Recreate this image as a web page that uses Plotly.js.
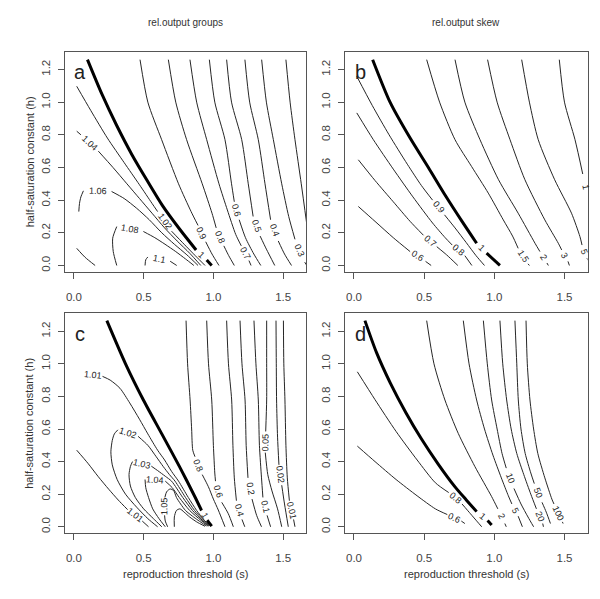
<!DOCTYPE html>
<html><head><meta charset="utf-8">
<script src="https://cdn.plot.ly/plotly-3.0.1.min.js"></script>
<style>html,body{margin:0;padding:0;background:#fff}#plot{width:600px;height:599px}</style>
</head><body><div id="plot"></div>
<script>
// ---------- tick labels and texts ----------
const xTickVals = [0, 0.5, 1, 1.5];
const xTickText = ['0.0', '0.5', '1.0', '1.5'];
const yTickVals = [0, 0.2, 0.4, 0.6, 0.8, 1.0, 1.2];
const yTickText = ['0.0', '0.2', '0.4', '0.6', '0.8', '1.0', '1.2'];
const columnTitles = ['rel.output groups', 'rel.output skew'];
const panelLetters = ['a', 'b', 'c', 'd'];
const xTitleText = 'reproduction threshold (s)';
const yTitleText = 'half-saturation constant (h)';

// ---------- panel a : contour lines (null = label gap) ----------
const aLevels = [1, 1.02, 1.04, 1.06, 1.06, 1.08, 1.1, 0.9, 0.8, 0.7, 0.6, 0.5, 0.4, 0.3, 0.2];
const aLabels = ['1', '1.02', '1.04', '1.06', '', '1.08', '1.1', '0.9', '0.8', '0.7', '0.6', '0.5', '0.4', '0.3', ''];
const aX = [
  [0.097, 0.20, 0.305, 0.415, 0.525, 0.64, 0.76, 0.876, null, 0.952, 0.988],
  [0.02, 0.12, 0.24, 0.36, 0.47, 0.56, 0.60, null, 0.70, 0.79, 0.87, 0.94],
  [0.02, 0.05, null, 0.175, 0.28, 0.38, 0.47, 0.56, 0.65, 0.74, 0.83, 0.91],
  [0.035, 0.04, 0.05, 0.068, null, 0.27, 0.36, 0.45, 0.54, 0.63, 0.72, 0.81, 0.89],
  [0.02, 0.08, 0.152],
  [0.307, 0.282, 0.278, 0.307, null, 0.498, 0.58, 0.653, 0.73, 0.80, 0.86],
  [0.51, 0.515, 0.53, null, 0.69, 0.737],
  [0.474, 0.53, 0.629, 0.75, 0.84, 0.89, null, 0.945, 0.99, 1.04],
  [0.677, 0.73, 0.808, 0.92, 0.99, 1.02, null, 1.075, 1.11, 1.15],
  [0.832, 0.88, 0.952, 1.04, 1.10, 1.16, 1.20, null, 1.255, 1.27],
  [0.971, 1.01, 1.083, 1.13, 1.15, null, 1.185, 1.23, 1.29, 1.34],
  [1.095, 1.13, 1.203, 1.25, 1.285, null, 1.335, 1.38, 1.44],
  [1.226, 1.26, 1.322, 1.37, 1.41, null, 1.465, 1.51, 1.56],
  [1.346, 1.38, 1.43, 1.49, 1.54, 1.585, null, 1.655, 1.67],
  [1.52, 1.55, 1.585, 1.63, 1.67]
];
const aY = [
  [1.26, 1.05, 0.86, 0.68, 0.52, 0.36, 0.22, 0.095, null, 0.034, 0.0],
  [1.097, 0.95, 0.78, 0.63, 0.494, 0.38, 0.33, null, 0.21, 0.13, 0.06, 0.0],
  [0.822, 0.80, null, 0.70, 0.60, 0.50, 0.41, 0.32, 0.23, 0.15, 0.075, 0.0],
  [0.33, 0.38, 0.42, 0.457, null, 0.453, 0.41, 0.35, 0.28, 0.20, 0.13, 0.065, 0.0],
  [0.105, 0.05, 0.0],
  [0.0, 0.085, 0.167, 0.238, null, 0.208, 0.17, 0.13, 0.085, 0.04, 0.0],
  [0.0, 0.035, 0.052, null, 0.026, 0.0],
  [1.26, 1.0, 0.77, 0.5, 0.33, 0.245, null, 0.145, 0.07, 0.0],
  [1.26, 1.0, 0.77, 0.5, 0.32, 0.23, null, 0.12, 0.06, 0.0],
  [1.26, 1.0, 0.77, 0.5, 0.34, 0.19, 0.12, null, 0.03, 0.0],
  [1.26, 1.0, 0.77, 0.5, 0.39, null, 0.28, 0.17, 0.07, 0.0],
  [1.26, 1.0, 0.77, 0.5, 0.30, null, 0.18, 0.1, 0.0],
  [1.26, 1.0, 0.77, 0.5, 0.28, null, 0.15, 0.07, 0.0],
  [1.26, 1.0, 0.77, 0.5, 0.3, 0.16, null, 0.02, 0.0],
  [1.26, 1.0, 0.77, 0.5, 0.25]
];

// ---------- panel b ----------
const bLevels = [1, 0.9, 0.8, 0.7, 0.6, 1.5, 2, 3, 5, 10];
const bLabels = ['1', '0.9', '0.8', '0.7', '0.6', '1.5', '2', '3', '5', '1'];
const bX = [
  [0.133, 0.257, 0.40, 0.53, 0.65, 0.77, 0.874, null, 0.945, 1.04],
  [0.02, 0.13, 0.25, 0.38, 0.48, 0.56, null, 0.645, 0.72, 0.80, 0.87, 0.93],
  [0.02, 0.138, 0.28, 0.42, 0.56, 0.65, 0.70, null, 0.79, 0.84],
  [0.031, 0.15, 0.28, 0.40, 0.495, null, 0.59, 0.66, 0.74],
  [0.031, 0.15, 0.28, 0.40, null, 0.51, 0.55],
  [0.518, 0.61, 0.72, 0.838, 0.957, 1.064, 1.13, 1.17, null, 1.24, 1.25],
  [0.72, 0.79, 0.898, 1.03, 1.17, 1.29, 1.325, null, 1.375, 1.385],
  [0.952, 1.02, 1.112, 1.218, 1.36, 1.456, 1.48, null, 1.525, 1.535],
  [1.195, 1.25, 1.313, 1.43, 1.55, 1.61, 1.625, null, 1.66, 1.67],
  [1.463, 1.50, 1.575, 1.63, null, 1.67]
];
const bY = [
  [1.26, 1.0, 0.78, 0.6, 0.43, 0.27, 0.136, null, 0.075, 0.0],
  [1.158, 0.98, 0.80, 0.62, 0.49, 0.40, null, 0.31, 0.23, 0.14, 0.06, 0.0],
  [0.934, 0.77, 0.59, 0.42, 0.26, 0.17, 0.125, null, 0.06, 0.0],
  [0.647, 0.52, 0.39, 0.27, 0.185, null, 0.115, 0.065, 0.0],
  [0.361, 0.27, 0.17, 0.085, null, 0.025, 0.0],
  [1.26, 1.0, 0.77, 0.606, 0.443, 0.279, 0.18, 0.105, null, 0.01, 0.0],
  [1.26, 1.0, 0.77, 0.525, 0.32, 0.136, 0.085, null, 0.015, 0.0],
  [1.26, 1.0, 0.77, 0.525, 0.279, 0.136, 0.095, null, 0.025, 0.0],
  [1.26, 1.0, 0.77, 0.525, 0.32, 0.177, 0.125, null, 0.045, 0.03],
  [1.26, 1.0, 0.77, 0.56, null, 0.40]
];

// ---------- panel c ----------
const cLevels = [1, 1.01, 1.01, 1.02, 1.03, 1.04, 1.05, 1.06, 0.8, 0.6, 0.4, 0.2, 0.1, 0.05, 0.02, 0.01];
const cLabels = ['1', '1.01', '1.01', '1.02', '1.03', '1.04', '1.05', '', '0.8', '0.6', '0.4', '0.2', '0.1', '0.05', '0.02', '0.01'];
const cX = [
  [0.236, 0.37, 0.498, 0.63, 0.757, 0.87, 0.915, null, 0.955, 0.988],
  [0.075, null, 0.205, 0.26, 0.33, 0.40, 0.47, 0.53, 0.60, 0.65, 0.70, 0.75, 0.82, 0.88, 0.935, 0.975],
  [0.02, 0.10, 0.175, 0.25, 0.318, 0.385, null, 0.49, 0.535],
  [0.60, 0.53, 0.45, 0.37, 0.31, 0.275, 0.265, 0.275, 0.29, 0.315, null, 0.46, 0.53, 0.59, 0.64, 0.685, 0.725, 0.80, 0.865, 0.93, 0.97],
  [0.63, 0.57, 0.50, 0.44, 0.405, 0.395, 0.405, 0.42, null, 0.555, 0.60, 0.655, 0.70, 0.78, 0.85, 0.92, 0.965],
  [0.655, 0.61, 0.565, 0.535, 0.515, 0.51, null, 0.655, 0.705, 0.755, 0.83, 0.91, 0.96],
  [0.672, 0.655, 0.65, null, 0.652, 0.665, 0.69, 0.715, 0.735, 0.765, 0.80, 0.85, 0.89, 0.95],
  [0.72, 0.72, 0.735, 0.76, 0.79, 0.83, 0.88, 0.94],
  [0.804, 0.815, 0.833, 0.844, 0.852, 0.868, null, 0.92, 0.964, 1.0, 1.035, 1.083],
  [0.952, 0.965, 0.988, 1.0, 1.01, 1.015, null, 1.06, 1.107, 1.143],
  [1.095, 1.108, 1.131, 1.14, 1.15, 1.165, null, 1.205, 1.225],
  [1.191, 1.205, 1.227, 1.235, 1.248, null, 1.277, 1.31, 1.345],
  [1.291, 1.305, 1.322, 1.33, 1.345, 1.355, null, 1.385, 1.41],
  [1.382, 1.382, 1.382, 1.375, null, 1.372, 1.39, 1.42, 1.46, 1.49],
  [1.449, 1.451, 1.453, 1.46, 1.47, null, 1.49, 1.51, 1.537],
  [1.502, 1.505, 1.513, 1.52, 1.53, 1.545, null, 1.575, 1.585]
];
const cY = [
  [1.265, 1.0, 0.778, 0.57, 0.369, 0.18, 0.10, null, 0.04, 0.004],
  [0.935, null, 0.923, 0.90, 0.85, 0.76, 0.66, 0.57, 0.47, 0.41, 0.34, 0.28, 0.18, 0.10, 0.04, 0.005],
  [0.47, 0.39, 0.307, 0.23, 0.164, 0.105, null, 0.035, 0.0],
  [0.0, 0.05, 0.12, 0.20, 0.29, 0.38, 0.46, 0.53, 0.57, 0.595, null, 0.555, 0.50, 0.43, 0.37, 0.32, 0.28, 0.18, 0.10, 0.04, 0.005],
  [0.0, 0.05, 0.11, 0.18, 0.25, 0.32, 0.37, 0.40, null, 0.372, 0.345, 0.31, 0.28, 0.18, 0.10, 0.04, 0.005],
  [0.0, 0.05, 0.11, 0.18, 0.24, 0.29, null, 0.28, 0.24, 0.18, 0.10, 0.04, 0.005],
  [0.0, 0.035, 0.07, null, 0.18, 0.215, 0.232, 0.222, 0.18, 0.14, 0.10, 0.065, 0.04, 0.005],
  [0.0, 0.06, 0.10, 0.11, 0.09, 0.06, 0.03, 0.003],
  [1.265, 1.0, 0.778, 0.6, 0.47, 0.43, null, 0.32, 0.246, 0.17, 0.103, 0.0],
  [1.265, 1.0, 0.778, 0.5, 0.33, 0.28, null, 0.15, 0.08, 0.0],
  [1.265, 1.0, 0.778, 0.5, 0.3, 0.16, null, 0.045, 0.0],
  [1.265, 1.0, 0.778, 0.5, 0.30, null, 0.17, 0.07, 0.0],
  [1.265, 1.0, 0.778, 0.5, 0.3, 0.18, null, 0.07, 0.0],
  [1.265, 1.0, 0.778, 0.585, null, 0.455, 0.32, 0.22, 0.11, 0.0],
  [1.265, 1.0, 0.778, 0.55, 0.38, null, 0.255, 0.14, 0.0],
  [1.265, 1.0, 0.778, 0.5, 0.3, 0.16, null, 0.045, 0.0]
];

// ---------- panel d ----------
const dLevels = [1, 0.8, 0.6, 2, 5, 10, 20, 50, 100];
const dLabels = ['1', '0.8', '0.6', '2', '5', '10', '20', '50', '100'];
const dX = [
  [0.078, 0.16, 0.26, 0.37, 0.48, 0.60, 0.72, 0.80, 0.874, null, 0.952, 0.981],
  [0.024, 0.15, 0.30, 0.45, 0.58, 0.675, null, 0.77, 0.83, 0.88, 0.91],
  [0.024, 0.15, 0.30, 0.45, 0.58, 0.665, null, 0.765, 0.79],
  [0.518, 0.57, 0.648, 0.743, 0.862, 0.981, 1.025, null, 1.075, 1.085],
  [0.779, 0.82, 0.874, 0.93, 0.99, 1.05, 1.10, 1.125, null, 1.17, 1.2],
  [0.922, 0.95, 0.981, 1.02, 1.055, 1.085, null, 1.14, 1.19, 1.24, 1.28],
  [1.04, 1.06, 1.088, 1.12, 1.16, 1.21, 1.26, 1.30, null, 1.345, 1.35],
  [1.147, 1.16, 1.171, 1.19, 1.22, 1.26, 1.285, null, 1.34, 1.37, 1.40],
  [1.226, 1.235, 1.254, 1.28, 1.31, 1.36, 1.41, 1.425, null, 1.485, 1.49]
];
const dY = [
  [1.265, 1.07, 0.88, 0.70, 0.54, 0.385, 0.245, 0.165, 0.093, null, 0.038, 0.011],
  [0.951, 0.78, 0.585, 0.41, 0.27, 0.21, null, 0.14, 0.08, 0.03, 0.0],
  [0.495, 0.40, 0.29, 0.19, 0.11, 0.075, null, 0.035, 0.02],
  [1.265, 1.0, 0.778, 0.573, 0.369, 0.185, 0.11, null, 0.02, 0.0],
  [1.265, 1.0, 0.778, 0.6, 0.44, 0.3, 0.19, 0.14, null, 0.065, 0.0],
  [1.265, 1.0, 0.778, 0.6, 0.45, 0.36, null, 0.235, 0.14, 0.06, 0.0],
  [1.265, 1.0, 0.778, 0.6, 0.45, 0.32, 0.2, 0.11, null, 0.02, 0.0],
  [1.265, 1.0, 0.778, 0.6, 0.45, 0.33, 0.265, null, 0.15, 0.09, 0.02],
  [1.265, 1.0, 0.778, 0.6, 0.45, 0.3, 0.17, 0.14, null, 0.03, 0.02]
];

// ---------- layout geometry ----------
const W = 600, H = 599;
const XR = [-0.064, 1.664], YR = [-0.04, 1.31];
const xDom = [[65 / W, 306 / W], [345 / W, 587.5 / W]];
const yDom = [[1 - 272 / H, 1 - 51.5 / H], [1 - 533.3 / H, 1 - 313.3 / H]];
const FONT = 'Liberation Sans, Arial, Helvetica, sans-serif';

const panels = [
  { lv: aLevels, lb: aLabels, xs: aX, ys: aY, col: 0, row: 0 },
  { lv: bLevels, lb: bLabels, xs: bX, ys: bY, col: 1, row: 0 },
  { lv: cLevels, lb: cLabels, xs: cX, ys: cY, col: 0, row: 1 },
  { lv: dLevels, lb: dLabels, xs: dX, ys: dY, col: 1, row: 1 }
];

const traces = [];
const annotations = [];
const layout = {
  width: W, height: H,
  margin: { l: 0, r: 0, t: 0, b: 0 },
  paper_bgcolor: '#fff', plot_bgcolor: '#fff',
  showlegend: false,
  font: { family: FONT, color: '#333' }
};

panels.forEach((p, i) => {
  const suf = i === 0 ? '' : String(i + 1);
  const xd = xDom[p.col], yd = yDom[p.row];
  layout['xaxis' + suf] = {
    domain: xd, range: XR, anchor: 'y' + suf,
    tickmode: 'array', tickvals: xTickVals, ticktext: xTickText,
    ticks: 'outside', ticklen: 6, tickwidth: 1, tickcolor: '#555',
    showline: true, mirror: true, linecolor: '#555', linewidth: 1,
    showgrid: false, zeroline: false, fixedrange: true,
    tickfont: { family: FONT, size: 11.5, color: '#444' },
    ticklabelstandoff: 8
  };
  layout['yaxis' + suf] = {
    domain: yd, range: YR, anchor: 'x' + suf,
    tickmode: 'array', tickvals: yTickVals, ticktext: yTickText,
    ticks: 'outside', ticklen: 6, tickwidth: 1, tickcolor: '#555',
    showline: true, mirror: true, linecolor: '#555', linewidth: 1,
    showgrid: false, zeroline: false, fixedrange: true, tickangle: -90,
    tickfont: { family: FONT, size: 11.5, color: '#444' },
    ticklabelstandoff: 3
  };
  const sx = (xd[1] - xd[0]) * W / (XR[1] - XR[0]);
  const sy = (yd[1] - yd[0]) * H / (YR[1] - YR[0]);

  p.xs.forEach((xs, k) => {
    const ys = p.ys[k];
    const thick = p.lv[k] === 1;
    traces.push({
      type: 'scatter', mode: 'lines', x: xs, y: ys,
      xaxis: 'x' + suf, yaxis: 'y' + suf,
      connectgaps: false, hoverinfo: 'skip',
      line: { color: thick ? '#000' : '#262626', width: thick ? 3 : 1, shape: 'spline', smoothing: 0.7 }
    });
    const g = xs.indexOf(null);
    if (g > 0 && p.lb[k]) {
      const x0 = xs[g - 1], y0 = ys[g - 1], x1 = xs[g + 1], y1 = ys[g + 1];
      let ang = Math.atan2(-(y1 - y0) * sy, (x1 - x0) * sx) * 180 / Math.PI;
      if (ang > 90) ang -= 180;
      if (ang <= -90) ang += 180;
      annotations.push({
        x: (x0 + x1) / 2, y: (y0 + y1) / 2, xref: 'x' + suf, yref: 'y' + suf,
        text: p.lb[k], showarrow: false, textangle: ang,
        xanchor: 'center', yanchor: 'middle',
        font: { family: FONT, size: 9, color: '#222' }
      });
    }
  });

  // panel letter
  annotations.push({
    x: 0.062, y: 0.905, xref: 'x' + suf + ' domain', yref: 'y' + suf + ' domain',
    text: panelLetters[i], showarrow: false, xanchor: 'center', yanchor: 'middle',
    font: { family: FONT, size: 20, color: '#222' }
  });
});

// column titles
columnTitles.forEach((t, c) => {
  annotations.push({
    x: (xDom[c][0] + xDom[c][1]) / 2, y: 1 - 22.7 / H, xref: 'paper', yref: 'paper',
    text: t, showarrow: false, xanchor: 'center', yanchor: 'middle',
    font: { family: FONT, size: 10, color: '#333' }
  });
});
// y titles (left column)
yDom.forEach(yd => {
  annotations.push({
    x: 29.5 / W, y: (yd[0] + yd[1]) / 2, xref: 'paper', yref: 'paper',
    text: yTitleText, showarrow: false, textangle: -90, xanchor: 'center', yanchor: 'middle',
    font: { family: FONT, size: 11, color: '#333' }
  });
});
// x titles (bottom row)
xDom.forEach(xd => {
  annotations.push({
    x: (xd[0] + xd[1]) / 2, y: 1 - 574 / H, xref: 'paper', yref: 'paper',
    text: xTitleText, showarrow: false, xanchor: 'center', yanchor: 'middle',
    font: { family: FONT, size: 11, color: '#333' }
  });
});
layout.annotations = annotations;

Plotly.newPlot('plot', traces, layout, { staticPlot: true, displayModeBar: false });
</script></body></html>
